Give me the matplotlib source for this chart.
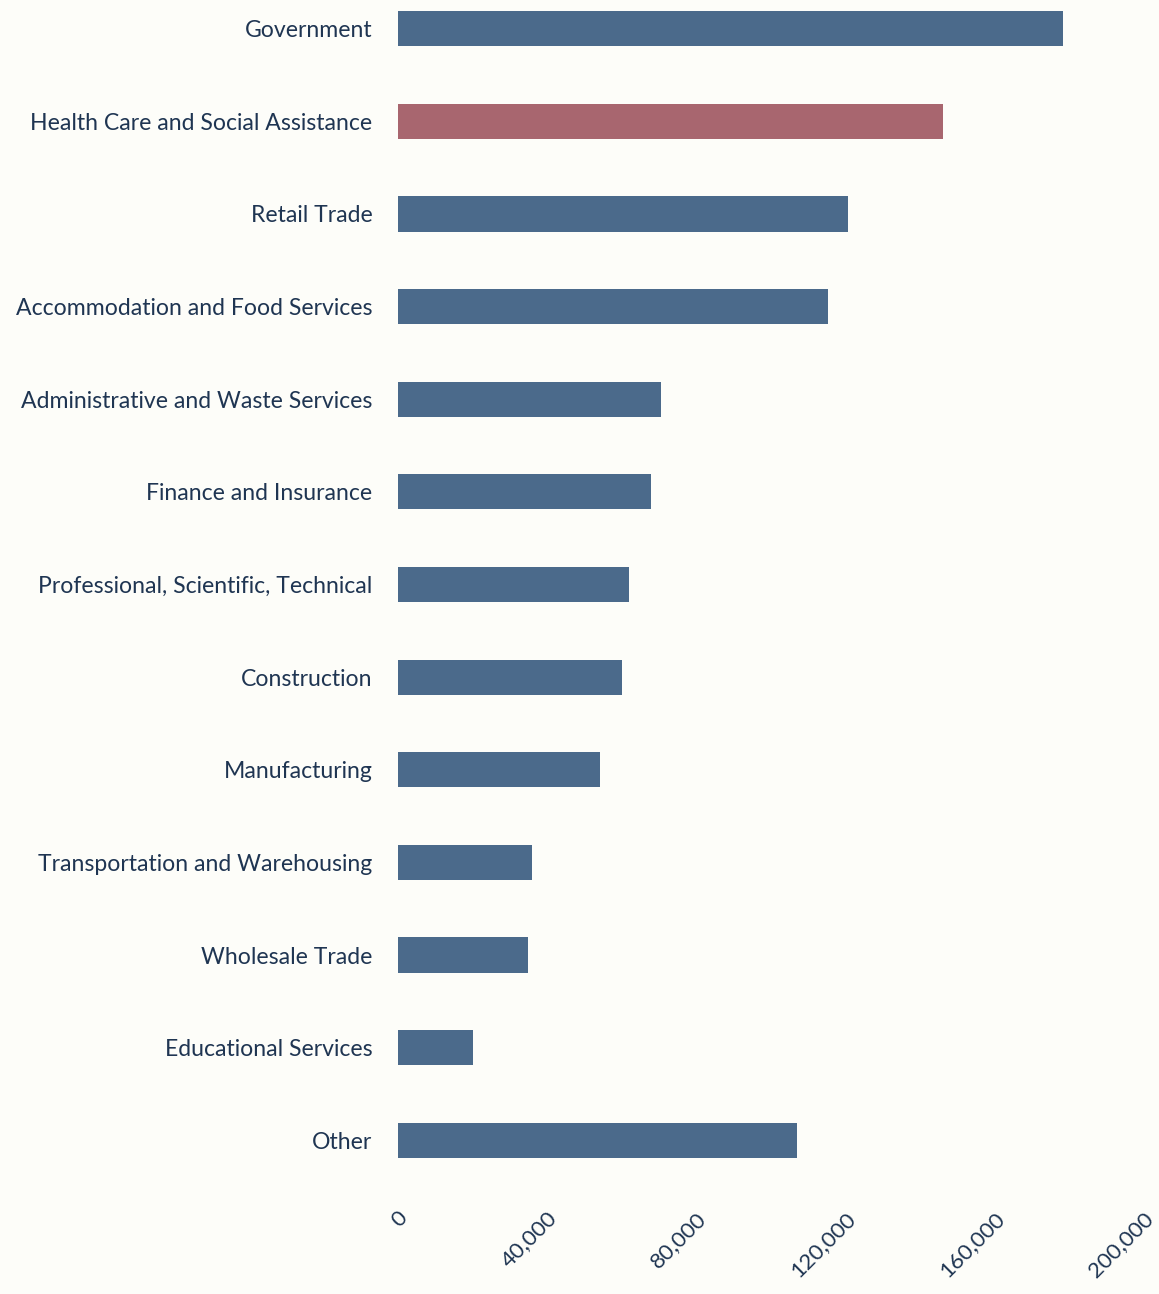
import matplotlib.pyplot as plt

categories = ["Government", "Health Care and Social Assistance", "Retail Trade",
              "Accommodation and Food Services", "Administrative and Waste Services",
              "Finance and Insurance", "Professional, Scientific, Technical",
              "Construction", "Manufacturing", "Transportation and Warehousing",
              "Wholesale Trade", "Educational Services", "Other"]
employment = [178500, 146400, 121000, 115600, 70600, 67900, 62100,
              60200, 54400, 36100, 35000, 20200, 107200]
highlight = "Health Care and Social Assistance"
xticks = [0, 40000, 80000, 120000, 160000, 200000]

blue = "#4b6a8b"
red = "#a8666f"
text_color = "#1f3552"
bg = "#fdfdf9"

plt.rcParams["font.family"] = ["Lato", "DejaVu Sans"]

fig = plt.figure(figsize=(11.59, 12.94), dpi=100, facecolor=bg)
ax = fig.add_axes([0.343, 0.088, 0.643, 0.912], facecolor=bg)

colors = [red if c == highlight else blue for c in categories]
ax.barh(range(len(categories)), employment, height=0.38, color=colors)

ax.set_ylim(12.43, -0.31)
ax.set_xlim(0, 200000)
ax.set_yticks(range(len(categories)))
ax.set_yticklabels(categories, fontsize=16.6, color=text_color)
ax.set_xticks(xticks)
ax.set_xticklabels([f"{v:,}" for v in xticks], fontsize=16, color=text_color,
                   rotation=45, ha="right", rotation_mode="anchor")
ax.tick_params(axis="y", length=0, pad=18)
ax.tick_params(axis="x", length=0, pad=20)
for s in ax.spines.values():
    s.set_visible(False)

fig.savefig("out.png", dpi=100, facecolor=bg)
